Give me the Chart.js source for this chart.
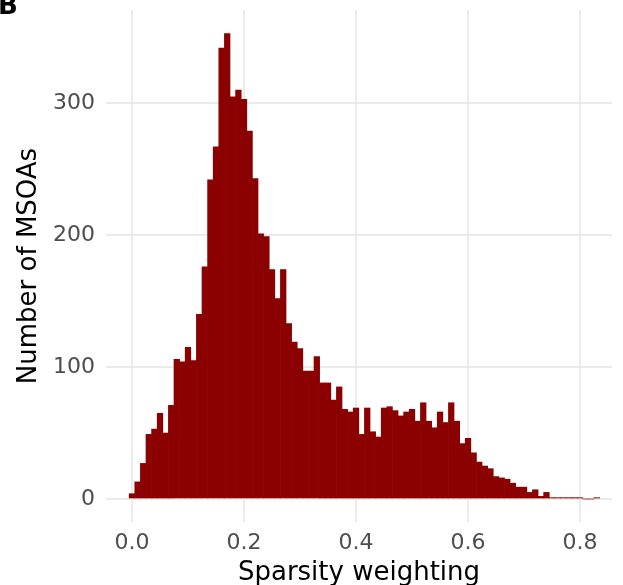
<!DOCTYPE html>
<html>
<head>
<meta charset="utf-8">
<script src="https://cdn.jsdelivr.net/npm/chart.js@4.4.1/dist/chart.umd.min.js"></script>
<style>
  html, body { margin: 0; padding: 0; background: #ffffff; }
  #wrap { width: 623px; height: 585px; position: relative; }
</style>
</head>
<body>
<div id="wrap"><canvas id="canvas"></canvas></div>
<script>
// histogram bins (centre of each bin, width 0.01)
const binCentres = [
  0.00, 0.01, 0.02, 0.03, 0.04, 0.05, 0.06, 0.07, 0.08, 0.09,
  0.10, 0.11, 0.12, 0.13, 0.14, 0.15, 0.16, 0.17, 0.18, 0.19,
  0.20, 0.21, 0.22, 0.23, 0.24, 0.25, 0.26, 0.27, 0.28, 0.29,
  0.30, 0.31, 0.32, 0.33, 0.34, 0.35, 0.36, 0.37, 0.38, 0.39,
  0.40, 0.41, 0.42, 0.43, 0.44, 0.45, 0.46, 0.47, 0.48, 0.49,
  0.50, 0.51, 0.52, 0.53, 0.54, 0.55, 0.56, 0.57, 0.58, 0.59,
  0.60, 0.61, 0.62, 0.63, 0.64, 0.65, 0.66, 0.67, 0.68, 0.69,
  0.70, 0.71, 0.72, 0.73, 0.74, 0.75, 0.76, 0.77, 0.78, 0.79,
  0.80, 0.81, 0.82, 0.83
];
const msoaCounts = [
  4, 13, 27, 49, 53, 65, 50, 71, 106, 104,
  115, 105, 140, 176, 242, 267, 342, 353, 305, 310,
  303, 279, 243, 201, 199, 174, 152, 174, 133, 119,
  114, 97, 97, 108, 88, 88, 75, 85, 68, 66,
  69, 49, 69, 51, 47, 69, 70, 67, 63, 66,
  68, 59, 73, 59, 54, 66, 58, 73, 59, 42,
  46, 35, 28, 25, 23, 17, 16, 15, 12, 9,
  9, 5, 7, 2, 5, 1, 1, 1, 1, 1,
  1, 0, 0, 1
];
const xTicks = [0.0, 0.2, 0.4, 0.6, 0.8];
const yTicks = [0, 100, 200, 300];

const FONT = "'DejaVu Sans', Verdana, sans-serif";
const GRID = "#EBEBEB";

const panelLabel = {
  id: "panelLabel",
  afterDraw(chart) {
    const ctx = chart.ctx;
    ctx.save();
    ctx.fillStyle = "#000000";
    ctx.font = "bold 26px " + FONT;
    ctx.textBaseline = "alphabetic";
    ctx.fillText("B", -2, 14);
    ctx.restore();
  }
};

const canvas = document.getElementById("canvas");

const histConfig = {
  type: "bar",
  data: {
    datasets: [{
      data: binCentres.map((x, i) => ({ x: x, y: msoaCounts[i] })),
      backgroundColor: "#8B0000",
      borderWidth: 0,
      barPercentage: 1.0,
      categoryPercentage: 1.0,
      grouped: false
    }]
  },
  options: {
    responsive: true,
    maintainAspectRatio: false,
    animation: false,
    layout: { padding: { top: 10, right: 11, left: 0, bottom: 0 } },
    plugins: {
      legend: { display: false },
      tooltip: { enabled: false }
    },
    scales: {
      x: {
        type: "linear",
        offset: false,
        min: -0.0464,
        max: 0.857,
        afterFit: s => {
          s.height = 63;
          s.paddingLeft = 0;
          s.paddingRight = 0;
        },
        afterBuildTicks: s => { s.ticks = xTicks.map(v => ({ value: v })); },
        border: { display: false },
        grid: { color: GRID, lineWidth: 2, drawTicks: false, offset: false },
        ticks: {
          color: "#4D4D4D",
          padding: 8,
          font: { family: FONT, size: 22 },
          callback: v => Number(v).toFixed(1)
        },
        title: {
          display: true,
          text: "Sparsity weighting",
          color: "#000000",
          font: { family: FONT, size: 26, lineHeight: 0.92 },
          padding: { top: 0, bottom: 0 }
        }
      },
      y: {
        min: -17.44,
        max: 370.8,
        afterFit: s => {
          s.width = 106;
          s.paddingTop = 0;
          s.paddingBottom = 0;
        },
        afterBuildTicks: s => { s.ticks = yTicks.map(v => ({ value: v })); },
        border: { display: false },
        grid: { color: GRID, lineWidth: 2, drawTicks: false },
        ticks: {
          color: "#4D4D4D",
          padding: 11,
          font: { family: FONT, size: 22 }
        },
        title: {
          display: true,
          text: "Number of MSOAs",
          color: "#000000",
          font: { family: FONT, size: 26 },
          padding: { top: 14, bottom: 0 }
        }
      }
    }
  },
  plugins: [panelLabel]
};

var histChart = new Chart(canvas.getContext("2d"), histConfig);
</script>
</body>
</html>
